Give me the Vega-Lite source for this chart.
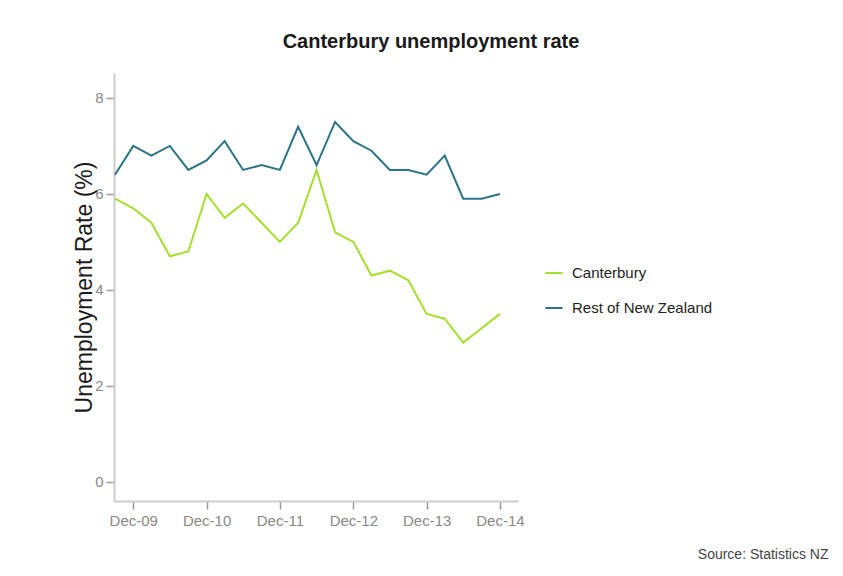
{
  "$schema": "https://vega.github.io/schema/vega-lite/v6.json",
  "width": 404,
  "height": 428,
  "autosize": {"type": "none"},
  "padding": {"left": 114, "top": 73, "right": 325, "bottom": 75},
  "background": "white",
  "title": {
    "text": "Canterbury unemployment rate",
    "font": "Liberation Sans",
    "fontSize": 20,
    "fontWeight": "bold",
    "color": "#1a1a1a",
    "anchor": "middle",
    "frame": "group",
    "dx": 115,
    "baseline": "alphabetic",
    "offset": 5
  },
  "config": {
    "view": {"stroke": null},
    "font": "Liberation Sans"
  },
  "data": {
    "values": [
      {"date": "2009-09-01", "region": "Canterbury", "rate": 5.9},
      {"date": "2009-12-01", "region": "Canterbury", "rate": 5.7},
      {"date": "2010-03-01", "region": "Canterbury", "rate": 5.4},
      {"date": "2010-06-01", "region": "Canterbury", "rate": 4.7},
      {"date": "2010-09-01", "region": "Canterbury", "rate": 4.8},
      {"date": "2010-12-01", "region": "Canterbury", "rate": 6.0},
      {"date": "2011-03-01", "region": "Canterbury", "rate": 5.5},
      {"date": "2011-06-01", "region": "Canterbury", "rate": 5.8},
      {"date": "2011-09-01", "region": "Canterbury", "rate": 5.4},
      {"date": "2011-12-01", "region": "Canterbury", "rate": 5.0},
      {"date": "2012-03-01", "region": "Canterbury", "rate": 5.4},
      {"date": "2012-06-01", "region": "Canterbury", "rate": 6.5},
      {"date": "2012-09-01", "region": "Canterbury", "rate": 5.2},
      {"date": "2012-12-01", "region": "Canterbury", "rate": 5.0},
      {"date": "2013-03-01", "region": "Canterbury", "rate": 4.3},
      {"date": "2013-06-01", "region": "Canterbury", "rate": 4.4},
      {"date": "2013-09-01", "region": "Canterbury", "rate": 4.2},
      {"date": "2013-12-01", "region": "Canterbury", "rate": 3.5},
      {"date": "2014-03-01", "region": "Canterbury", "rate": 3.4},
      {"date": "2014-06-01", "region": "Canterbury", "rate": 2.9},
      {"date": "2014-09-01", "region": "Canterbury", "rate": 3.2},
      {"date": "2014-12-01", "region": "Canterbury", "rate": 3.5},
      {"date": "2009-09-01", "region": "Rest of New Zealand", "rate": 6.4},
      {"date": "2009-12-01", "region": "Rest of New Zealand", "rate": 7.0},
      {"date": "2010-03-01", "region": "Rest of New Zealand", "rate": 6.8},
      {"date": "2010-06-01", "region": "Rest of New Zealand", "rate": 7.0},
      {"date": "2010-09-01", "region": "Rest of New Zealand", "rate": 6.5},
      {"date": "2010-12-01", "region": "Rest of New Zealand", "rate": 6.7},
      {"date": "2011-03-01", "region": "Rest of New Zealand", "rate": 7.1},
      {"date": "2011-06-01", "region": "Rest of New Zealand", "rate": 6.5},
      {"date": "2011-09-01", "region": "Rest of New Zealand", "rate": 6.6},
      {"date": "2011-12-01", "region": "Rest of New Zealand", "rate": 6.5},
      {"date": "2012-03-01", "region": "Rest of New Zealand", "rate": 7.4},
      {"date": "2012-06-01", "region": "Rest of New Zealand", "rate": 6.6},
      {"date": "2012-09-01", "region": "Rest of New Zealand", "rate": 7.5},
      {"date": "2012-12-01", "region": "Rest of New Zealand", "rate": 7.1},
      {"date": "2013-03-01", "region": "Rest of New Zealand", "rate": 6.9},
      {"date": "2013-06-01", "region": "Rest of New Zealand", "rate": 6.5},
      {"date": "2013-09-01", "region": "Rest of New Zealand", "rate": 6.5},
      {"date": "2013-12-01", "region": "Rest of New Zealand", "rate": 6.4},
      {"date": "2014-03-01", "region": "Rest of New Zealand", "rate": 6.8},
      {"date": "2014-06-01", "region": "Rest of New Zealand", "rate": 5.9},
      {"date": "2014-09-01", "region": "Rest of New Zealand", "rate": 5.9},
      {"date": "2014-12-01", "region": "Rest of New Zealand", "rate": 6.0}
    ]
  },
  "mark": {"type": "line", "strokeWidth": 2, "clip": true},
  "encoding": {
    "x": {
      "field": "date",
      "type": "temporal",
      "scale": {
        "type": "utc",
        "domain": [
          {"year": 2009, "month": 8, "date": 27, "utc": true},
          {"year": 2015, "month": 3, "date": 1, "utc": true}
        ]
      },
      "axis": {
        "values": [
          {"year": 2009, "month": 12, "date": 1, "utc": true},
          {"year": 2010, "month": 12, "date": 1, "utc": true},
          {"year": 2011, "month": 12, "date": 1, "utc": true},
          {"year": 2012, "month": 12, "date": 1, "utc": true},
          {"year": 2013, "month": 12, "date": 1, "utc": true},
          {"year": 2014, "month": 12, "date": 1, "utc": true}
        ],
        "labelExpr": "utcFormat(datum.value, '%b-%y')",
        "grid": false,
        "domainColor": "#cccccc",
        "domainWidth": 2,
        "tickColor": "#999999",
        "tickWidth": 1.5,
        "tickSize": 8,
        "labelPadding": 4,
        "labelFontSize": 15,
        "labelColor": "#888888",
        "labelFont": "Liberation Sans",
        "title": "Source: Statistics NZ",
        "titleFont": "Liberation Sans",
        "titleFontSize": 14,
        "titleFontWeight": "normal",
        "titleColor": "#444444",
        "titleAlign": "right",
        "titleAnchor": "end",
        "titleBaseline": "alphabetic",
        "titleX": 714,
        "titleY": 57
      }
    },
    "y": {
      "field": "rate",
      "type": "quantitative",
      "scale": {"domain": [-0.4, 8.52], "nice": false, "zero": false},
      "axis": {
        "values": [0, 2, 4, 6, 8],
        "grid": false,
        "domainColor": "#cccccc",
        "domainWidth": 2,
        "tickColor": "#999999",
        "tickWidth": 1.5,
        "tickSize": 8,
        "labelPadding": 3,
        "labelFontSize": 15,
        "labelColor": "#888888",
        "labelFont": "Liberation Sans",
        "title": "Unemployment Rate (%)",
        "titleFont": "Liberation Sans",
        "titleFontSize": 23,
        "titleFontWeight": "normal",
        "titleColor": "#1a1a1a",
        "titlePadding": -2
      }
    },
    "color": {
      "field": "region",
      "type": "nominal",
      "scale": {
        "domain": ["Canterbury", "Rest of New Zealand"],
        "range": ["#a3df2c", "#2b7486"]
      },
      "legend": {
        "title": null,
        "orient": "none",
        "legendX": 430,
        "legendY": 190,
        "symbolType": "stroke",
        "symbolSize": 300,
        "symbolStrokeWidth": 2,
        "labelFontSize": 15,
        "labelFont": "Liberation Sans",
        "labelColor": "#222222",
        "rowPadding": 17,
        "labelOffset": 8
      }
    }
  }
}
